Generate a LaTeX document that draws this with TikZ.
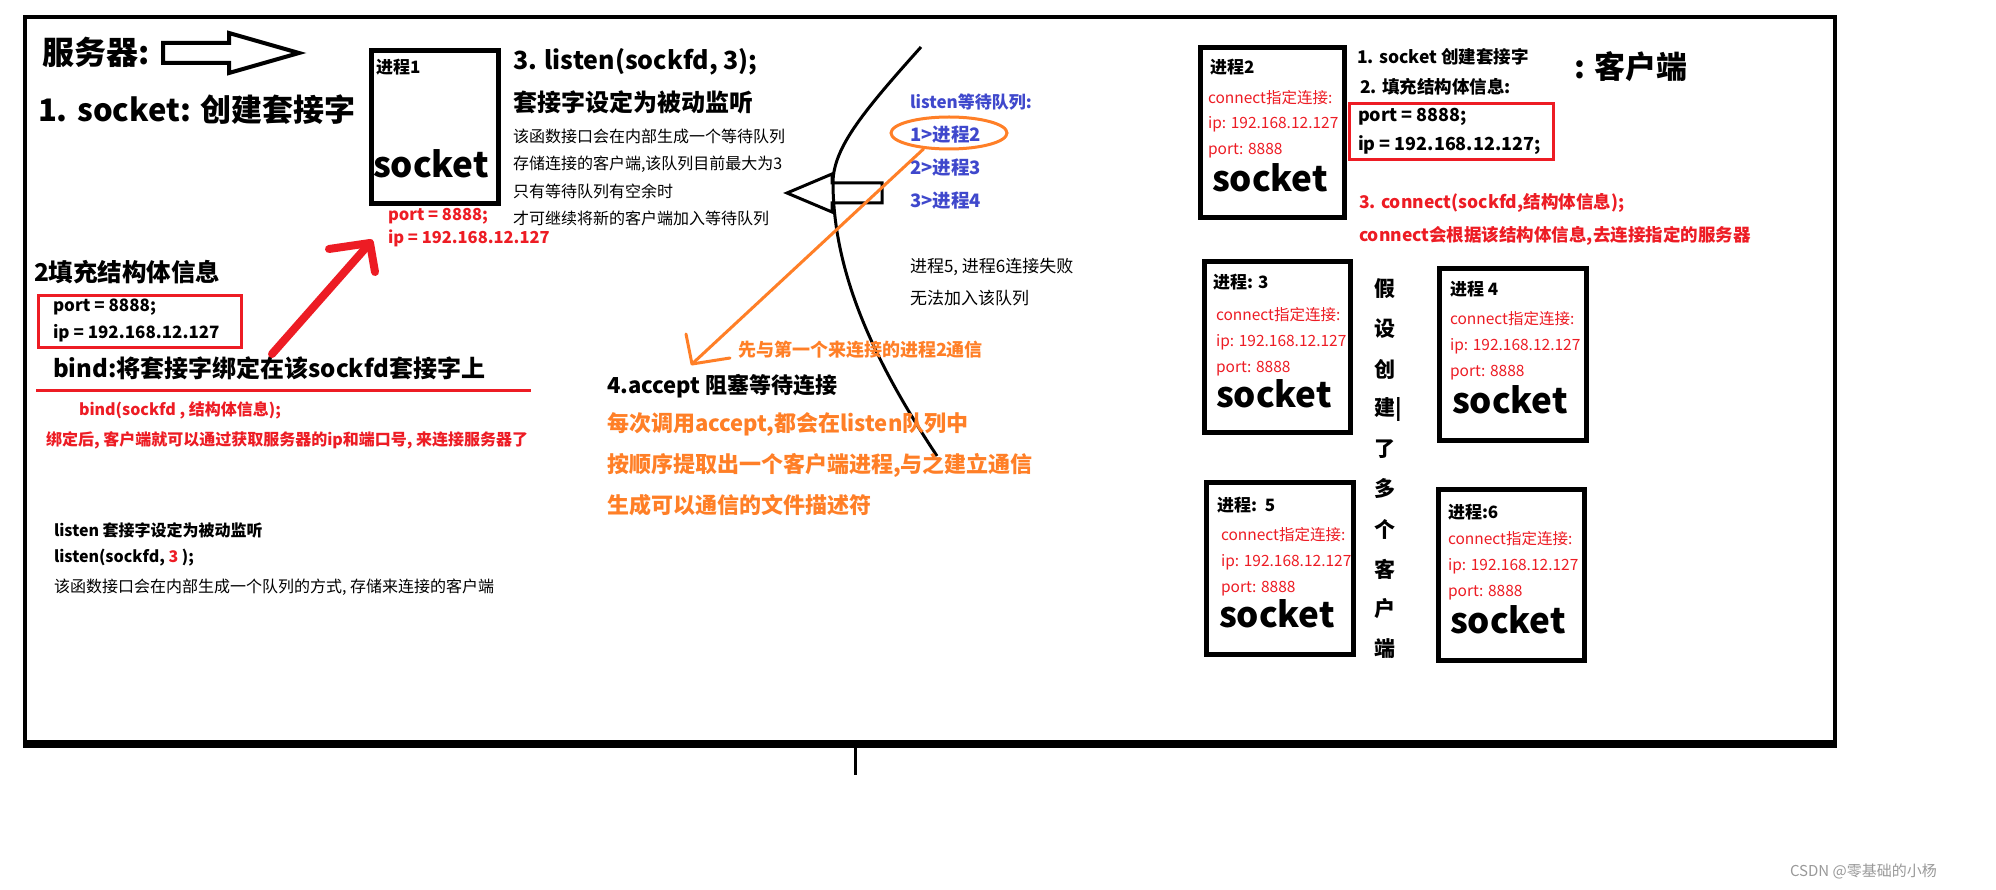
\documentclass[tikz,border=0pt]{standalone}
\usepackage{fontspec}
\setmainfont{Noto Sans CJK SC}
\usetikzlibrary{shapes.geometric}
\definecolor{pred}{RGB}{237,28,36}
\definecolor{porange}{RGB}{255,127,39}
\definecolor{pblue}{RGB}{63,72,204}
\newcommand\myfs[1]{\fontsize{#1}{#1}\selectfont}
\tikzset{
  txt/.style={inner sep=0pt, outer sep=0pt, anchor=west},
  procbox/.style={draw, line width=5pt, anchor=north west, inner sep=0pt},
  hand/.style={line width=3pt, line cap=round, line join=round},
  redtxt/.style={txt, text=pred, font=\myfs{15.5}},
  sock/.style={txt, font=\bfseries\myfs{35}},
  ptitle/.style={txt, font=\bfseries\myfs{17}},
}
\begin{document}
\begin{tikzpicture}[x=1pt,y=-1pt]
\useasboundingbox (0,0) rectangle (1996,890);
\fill[white] (0,0) rectangle (1996,890);
% main frame
\node[draw, line width=4pt, anchor=north west, minimum width=1810pt, minimum height=725pt, inner sep=0pt] (frame) at (23,15) {};
\draw[line width=7pt] (frame.south west) -- (frame.south east);
\coordinate (tk) at (855,775);
\draw[line width=3pt] (frame.south -| tk) -- (tk);

% ---------- server side ----------
\node[txt, font=\bfseries\myfs{32}] (srv) at (42,52) {服务器:};
\coordinate (ha) at (163,43);
\draw[line width=4pt, line join=miter] (ha) -- (229,43) -- (229,33) -- (299,53) -- (229,73) -- (229,63) -- (163,63) -- cycle;
\node[txt, font=\bfseries\myfs{31}] (s1) at (38,110) {1. socket: 创建套接字};

\node[procbox, minimum width=127pt, minimum height=153pt] (p1) at (369,48) {};
\node[ptitle] (p1t) at (376,67) {进程1};
\node[sock] (p1s) at (373,164) {socket};
\node[txt, text=pred, font=\bfseries\myfs{16.5}] (p1port) at (388,216) {port = 8888;};
\node[txt, text=pred, font=\bfseries\myfs{16.5}] (p1ip) at (388,238) {ip = 192.168.12.127};

\node[txt, font=\bfseries\myfs{25}] (l3) at (513,62) {3. listen(sockfd, 3);};
\node[txt, font=\bfseries\myfs{24}] (l3b) at (513,102) {套接字设定为被动监听};
\node[txt, font=\myfs{16}] (l3c) at (513,136) {该函数接口会在内部生成一个等待队列};
\node[txt, font=\myfs{16}] (l3d) at (513,164) {存储连接的客户端,该队列目前最大为3};
\node[txt, font=\myfs{16}] (l3e) at (513,191) {只有等待队列有空余时};
\node[txt, font=\myfs{16}] (l3f) at (513,218) {才可继续将新的客户端加入等待队列};

% step 2 on the left
\node[txt, font=\bfseries\myfs{24.5}] (s2) at (34,272) {2填充结构体信息};
\node[draw=pred, line width=3pt, anchor=north west, minimum width=203pt, minimum height=52pt, inner sep=0pt] (rb1) at (37,294) {};
\node[txt, font=\bfseries\myfs{17}] (rb1a) at (53,307) {port = 8888;};
\node[txt, font=\bfseries\myfs{17}] (rb1b) at (53,333) {ip = 192.168.12.127};
\node[txt, font=\bfseries\myfs{24}] (bind) at (53,368) {bind:将套接字绑定在该sockfd套接字上};
\coordinate (ul1) at (36,390);
\coordinate (ul2) at (531,390);
\draw[pred, line width=3pt] (ul1) -- (ul2);
\node[txt, text=pred, font=\bfseries\myfs{16}] (bindc) at (79,410) {bind(sockfd , 结构体信息);};
\node[txt, text=pred, font=\bfseries\myfs{16}] (bindd) at (46,440) {绑定后, 客户端就可以通过获取服务器的ip和端口号, 来连接服务器了};

\node[txt, font=\bfseries\myfs{16}] (ls1) at (54,530) {listen 套接字设定为被动监听};
\node[txt, font=\bfseries\myfs{16}] (ls2) at (54,558) {listen(sockfd, \textcolor{pred}{3} );};
\node[txt, font=\myfs{16}] (ls3) at (54,587) {该函数接口会在内部生成一个队列的方式, 存储来连接的客户端};

% red hand arrow
\coordinate (rtail) at (272,354);
\coordinate (rtip) at (370,243);
\coordinate (ra1) at (329,249);
\coordinate (ra2) at (375,272);
\draw[pred, line width=8pt, line cap=round, line join=round] (rtail) -- (rtip);
\draw[pred, line width=8pt, line cap=round, line join=round] (ra1) -- (rtip) -- (ra2);

% big curve and hollow arrow
\coordinate (cv1) at (921,47);
\coordinate (cv2) at (833,185);
\coordinate (cv3) at (937,456);
\draw[line width=3pt] (cv1) .. controls (860,115) and (832,150) .. (cv2) .. controls (834,280) and (880,370) .. (cv3);
\coordinate (qtip) at (787,193);
\draw[line width=3pt, line join=miter] (qtip) -- (832,174) -- (832,183) -- (882,183) -- (882,203) -- (832,203) -- (832,212) -- cycle;

% queue
\node[txt, text=pblue, font=\bfseries\myfs{17}] (qh) at (910,102) {listen等待队列:};
\node[txt, text=pblue, font=\bfseries\myfs{18.5}] (q1) at (910,135) {1>进程2};
\node[txt, text=pblue, font=\bfseries\myfs{18.5}] (q2) at (910,168) {2>进程3};
\node[txt, text=pblue, font=\bfseries\myfs{18.5}] (q3) at (910,201) {3>进程4};
\node[draw=porange, line width=3pt, ellipse, minimum width=116pt, minimum height=32pt, inner sep=0pt] (q1e) at (949,133) {};

\node[txt, font=\myfs{17}] (f1) at (910,267) {进程5, 进程6连接失败};
\node[txt, font=\myfs{17}] (f2) at (910,298) {无法加入该队列};

% orange arrow
\coordinate (otip) at (692,364);
\coordinate (oa1) at (686,334);
\coordinate (oa2) at (730,358);
\draw[porange, hand] (q1e.212) -- (otip);
\draw[porange, hand] (oa1) -- (otip) -- (oa2);
\node[txt, text=porange, font=\bfseries\myfs{18}] (first) at (738,350) {先与第一个来连接的进程2通信};

\node[txt, font=\bfseries\myfs{22}] (acc) at (607,386) {4.accept 阻塞等待连接};
\node[txt, text=porange, font=\bfseries\myfs{22}] (acc1) at (607,425) {每次调用accept,都会在listen队列中};
\node[txt, text=porange, font=\bfseries\myfs{22}] (acc2) at (607,465) {按顺序提取出一个客户端进程,与之建立通信};
\node[txt, text=porange, font=\bfseries\myfs{22}] (acc3) at (607,505) {生成可以通信的文件描述符};

% ---------- client side ----------
\node[procbox, minimum width=144pt, minimum height=170pt] (p2) at (1198,45) {};
\node[ptitle] (p2t) at (1210,67) {进程2};
\node[redtxt] (p2c) at (1208,98) {connect指定连接:};
\node[redtxt] (p2i) at (1208,124) {ip: 192.168.12.127};
\node[redtxt] (p2p) at (1208,151) {port: 8888};
\node[sock] (p2s) at (1212,178) {socket};

\node[txt, font=\bfseries\myfs{17.5}] (c1) at (1357,57) {1. socket 创建套接字};
\node[txt, font=\bfseries\myfs{17.5}] (c2) at (1360,87) {2. 填充结构体信息:};
\node[draw=pred, line width=3pt, anchor=north west, minimum width=204pt, minimum height=56pt, inner sep=0pt] (rb2) at (1348,102) {};
\node[txt, font=\bfseries\myfs{18}] (rb2a) at (1358,117) {port = 8888;};
\node[txt, font=\bfseries\myfs{18}] (rb2b) at (1358,145) {ip = 192.168.12.127;};
\node[txt, font=\bfseries\myfs{31}] (cli) at (1574,67) {: 客户端};
\node[txt, text=pred, font=\bfseries\myfs{17.5}] (c3) at (1359,203) {3. connect(sockfd,结构体信息);};
\node[txt, text=pred, font=\bfseries\myfs{17.5}] (c3b) at (1359,236) {connect会根据该结构体信息,去连接指定的服务器};

\node[procbox, minimum width=146pt, minimum height=171pt] (p3) at (1202,259) {};
\node[ptitle] (p3t) at (1213,282) {进程: 3};
\node[redtxt] (p3c) at (1216,315) {connect指定连接:};
\node[redtxt] (p3i) at (1216,342) {ip: 192.168.12.127};
\node[redtxt] (p3p) at (1216,369) {port: 8888};
\node[sock] (p3s) at (1216,394) {socket};

\node[procbox, minimum width=147pt, minimum height=172pt] (p4) at (1437,266) {};
\node[ptitle] (p4t) at (1450,289) {进程 4};
\node[redtxt] (p4c) at (1450,319) {connect指定连接:};
\node[redtxt] (p4i) at (1450,346) {ip: 192.168.12.127};
\node[redtxt] (p4p) at (1450,373) {port: 8888};
\node[sock] (p4s) at (1452,400) {socket};

\node[procbox, minimum width=147pt, minimum height=172pt] (p5) at (1204,480) {};
\node[ptitle] (p5t) at (1217,505) {进程:\ \ 5};
\node[redtxt] (p5c) at (1221,535) {connect指定连接:};
\node[redtxt] (p5i) at (1221,562) {ip: 192.168.12.127};
\node[redtxt] (p5p) at (1221,589) {port: 8888};
\node[sock] (p5s) at (1219,614) {socket};

\node[procbox, minimum width=146pt, minimum height=171pt] (p6) at (1436,487) {};
\node[ptitle] (p6t) at (1448,512) {进程:6};
\node[redtxt] (p6c) at (1448,539) {connect指定连接:};
\node[redtxt] (p6i) at (1448,566) {ip: 192.168.12.127};
\node[redtxt] (p6p) at (1448,593) {port: 8888};
\node[sock] (p6s) at (1450,620) {socket};

% vertical text
\foreach \c [count=\i from 0] in {假,设,创,建|,了,多,个,客,户,端}
  \node[txt, font=\bfseries\myfs{21}] (v\i) at (1374,289+40*\i) {\c};

\node[txt, text=black!40, font=\myfs{15}] (wm) at (1790,871) {CSDN @零基础的小杨};
\end{tikzpicture}
\end{document}
